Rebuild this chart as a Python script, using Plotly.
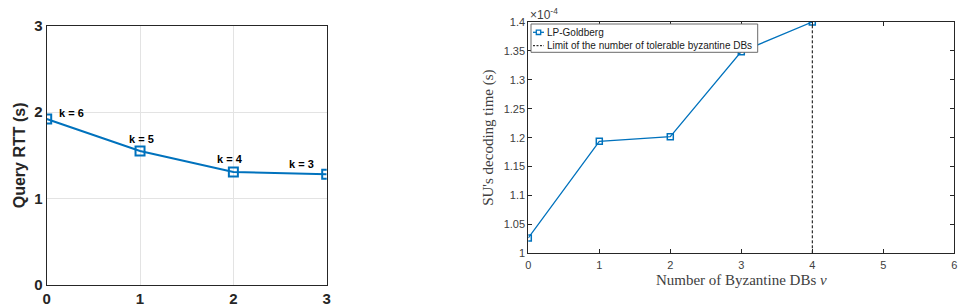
import plotly.graph_objects as go

# Left chart data
left_x = [0, 1, 2, 3]
left_rtt = [1.92, 1.55, 1.307, 1.28]
left_labels = ["k = 6", "k = 5", "k = 4", "k = 3"]
left_ticks = [0, 1, 2, 3]

# Right chart data
byz_v = [0, 1, 2, 3, 4]
decode_time = [1.0265e-4, 1.1937e-4, 1.2017e-4, 1.3487e-4, 1.4e-4]
limit_v = 4
right_xticks = [0, 1, 2, 3, 4, 5, 6]
right_yticks = [1.0, 1.05, 1.1, 1.15, 1.2, 1.25, 1.3, 1.35, 1.4]
right_ylabels = ["1", "1.05", "1.1", "1.15", "1.2", "1.25", "1.3", "1.35", "1.4"]
series_names = ["LP-Goldberg", "Limit of the number of tolerable byzantine DBs"]

BLUE = "#0072BD"
W, H = 964, 304


def px(x):
    return x / W


def py(y):
    return 1 - y / H


fig = go.Figure()

fig.add_trace(go.Scatter(
    x=left_x, y=left_rtt, xaxis="x", yaxis="y", mode="lines+markers",
    line=dict(color=BLUE, width=2),
    marker=dict(symbol="square-open", size=9, color=BLUE, line=dict(width=2, color=BLUE)),
    showlegend=False))

fig.add_trace(go.Scatter(
    x=byz_v, y=[v * 1e4 for v in decode_time], xaxis="x2", yaxis="y2", mode="lines+markers",
    name=series_names[0], showlegend=False,
    line=dict(color=BLUE, width=1.3),
    marker=dict(symbol="square-open", size=6, color=BLUE, line=dict(width=1.5, color=BLUE))))

fig.add_trace(go.Scatter(
    x=[limit_v, limit_v], y=[1.0, 1.4], xaxis="x2", yaxis="y2", mode="lines",
    name=series_names[1], showlegend=False,
    line=dict(color="black", width=1, dash="3px,2px")))

shifts = [(25, 6), (1, 12), (-3.5, 13), (-25, 10)]
annotations = []
for xi, yi, lab, (dx, dy) in zip(left_x, left_rtt, left_labels, shifts):
    annotations.append(dict(
        x=xi, y=yi, xref="x", yref="y", text=lab, showarrow=False,
        xshift=dx, yshift=dy,
        font=dict(family="Liberation Sans, Arial", size=11, color="black", weight="bold")))

annotations.append(dict(
    x=px(528), y=py(14), xref="paper", yref="paper", xanchor="left", yanchor="middle",
    text="×10<sup>-4</sup>", showarrow=False,
    font=dict(family="Liberation Sans, Arial", size=12, color="#404040")))

# Legend (drawn as a box with samples and labels)
shapes = [
    dict(type="rect", xref="paper", yref="paper", x0=px(531), x1=px(757.7), y0=py(52.3), y1=py(24),
         line=dict(color="#6a6a6a", width=1), fillcolor="white", layer="above"),
    dict(type="line", xref="paper", yref="paper", x0=px(533), x1=px(544), y0=py(32.3), y1=py(32.3),
         line=dict(color=BLUE, width=1.3), layer="above"),
    dict(type="rect", xref="paper", yref="paper", x0=px(536.3), x1=px(540.7), y0=py(34.5), y1=py(30.1),
         line=dict(color=BLUE, width=1.3), fillcolor="white", layer="above"),
    dict(type="line", xref="paper", yref="paper", x0=px(533), x1=px(544), y0=py(45.7), y1=py(45.7),
         line=dict(color="black", width=1, dash="2px,1.5px"), layer="above"),
]
for name, yc in zip(series_names, [32.3, 45.7]):
    annotations.append(dict(
        x=px(545), y=py(yc), xref="paper", yref="paper", xanchor="left", yanchor="middle",
        text=name, showarrow=False,
        font=dict(family="Liberation Sans, Arial", size=10, color="#1a1a1a")))

fig.update_layout(
    width=W, height=H,
    margin=dict(l=0, r=0, t=0, b=0, pad=0, autoexpand=False),
    paper_bgcolor="white", plot_bgcolor="white",
    annotations=annotations, shapes=shapes, showlegend=False,
    xaxis=dict(
        domain=[px(46.7), px(326.7)], range=[0, 3], anchor="y", automargin=False,
        tickvals=left_ticks, showgrid=True, gridcolor="#e3e3e3", gridwidth=1,
        showline=True, linecolor="#262626", linewidth=1, mirror=True,
        ticks="", zeroline=False, ticklabelstandoff=0,
        tickfont=dict(family="Liberation Sans, Arial", size=15, color="#262626", weight="bold")),
    yaxis=dict(
        domain=[py(285), py(25.7)], range=[0, 3], anchor="x", automargin=False,
        tickvals=[0, 1, 2, 3], showgrid=True, gridcolor="#e3e3e3", gridwidth=1,
        showline=True, linecolor="#262626", linewidth=1, mirror=True,
        ticks="", zeroline=False,
        title=dict(text="Query RTT (s)", standoff=4,
                   font=dict(family="Liberation Sans, Arial", size=16, color="#262626", weight="bold")),
        tickfont=dict(family="Liberation Sans, Arial", size=15, color="#262626", weight="bold")),
    xaxis2=dict(
        domain=[px(528.3), px(954.3)], range=[0, 6], anchor="y2", automargin=False,
        tickvals=right_xticks, showgrid=False, zeroline=False,
        showline=True, linecolor="#262626", linewidth=1, mirror="allticks",
        ticks="inside", ticklen=4, tickcolor="#262626", ticklabelstandoff=1,
        title=dict(text="Number of Byzantine DBs <i>v</i>", standoff=4,
                   font=dict(family="Liberation Serif, Times New Roman", size=15, color="#404040")),
        tickfont=dict(family="Liberation Sans, Arial", size=11, color="#404040")),
    yaxis2=dict(
        domain=[py(253.3), py(22)], range=[1.0, 1.4], anchor="x2", automargin=False,
        tickvals=right_yticks, ticktext=right_ylabels, showgrid=False, zeroline=False,
        showline=True, linecolor="#262626", linewidth=1, mirror="allticks",
        ticks="inside", ticklen=4, tickcolor="#262626",
        title=dict(text="SU's decoding time (s)", standoff=6,
                   font=dict(family="Liberation Serif, Times New Roman", size=15, color="#404040")),
        tickfont=dict(family="Liberation Sans, Arial", size=11, color="#404040")),
)

fig.write_html("out.html")
